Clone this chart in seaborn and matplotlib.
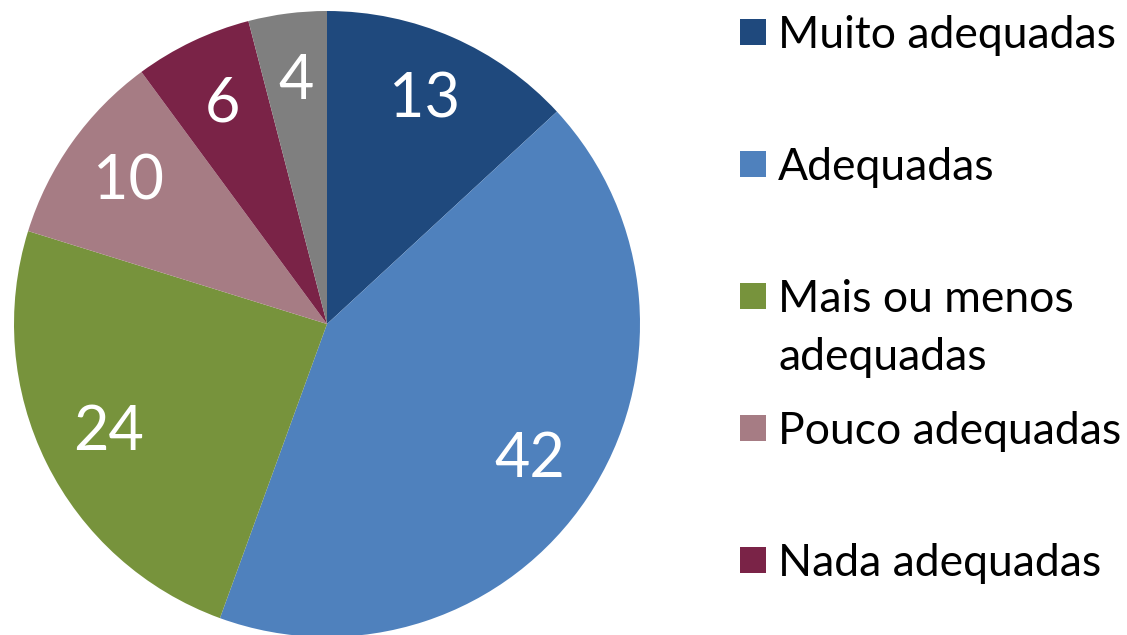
import matplotlib
matplotlib.use("Agg")
import matplotlib.pyplot as plt
import seaborn as sns
from matplotlib.patches import Rectangle

# Dados do gráfico
categorias = ["Muito adequadas", "Adequadas", "Mais ou menos\nadequadas",
              "Pouco adequadas", "Nada adequadas", "Sem resposta"]
valores = [13, 42, 24, 10, 6, 4]
cores = ["#1F497D", "#4F81BD", "#77933C", "#A67C84", "#7A2347", "#7F7F7F"]
n_legenda = 5  # a última categoria não aparece na legenda

sns.set_theme(style="white")
plt.rcParams["font.family"] = ["Lato", "DejaVu Sans"]
paleta = sns.color_palette(cores)

fig = plt.figure(figsize=(11.27, 6.35), dpi=100)
W, H = 1127, 635

# Eixo da pizza: centro (327, 324) px, raio 313 px
cx, cy, r = 327, 324, 313
ax = fig.add_axes([(cx - r) / W, (H - cy - r) / H, 2 * r / W, 2 * r / H])

total = sum(valores)
ax.pie(valores, colors=paleta, startangle=90, counterclock=False,
       autopct=lambda p: "%d" % round(p * total / 100.0),
       pctdistance=0.78, radius=1,
       wedgeprops={"linewidth": 0},
       textprops={"color": "white", "fontsize": 44})
ax.set_xlim(-1, 1)
ax.set_ylim(-1, 1)
ax.set_aspect("equal")

# Legenda manual (espaçamento como no original)
for i in range(n_legenda):
    y = 32 + i * 132
    fig.add_artist(Rectangle((740 / W, (H - y - 13) / H), 26 / W, 26 / H,
                             transform=fig.transFigure, color=paleta[i], lw=0))
    # cada linha do rótulo separadamente, a primeira alinhada ao marcador
    for k, linha in enumerate(categorias[i].split("\n")):
        fig.text(778 / W, (H - y - 16 - k * 58) / H, linha, fontsize=32,
                 color="black", va="baseline", ha="left")

plt.savefig("out.png", dpi=100)
